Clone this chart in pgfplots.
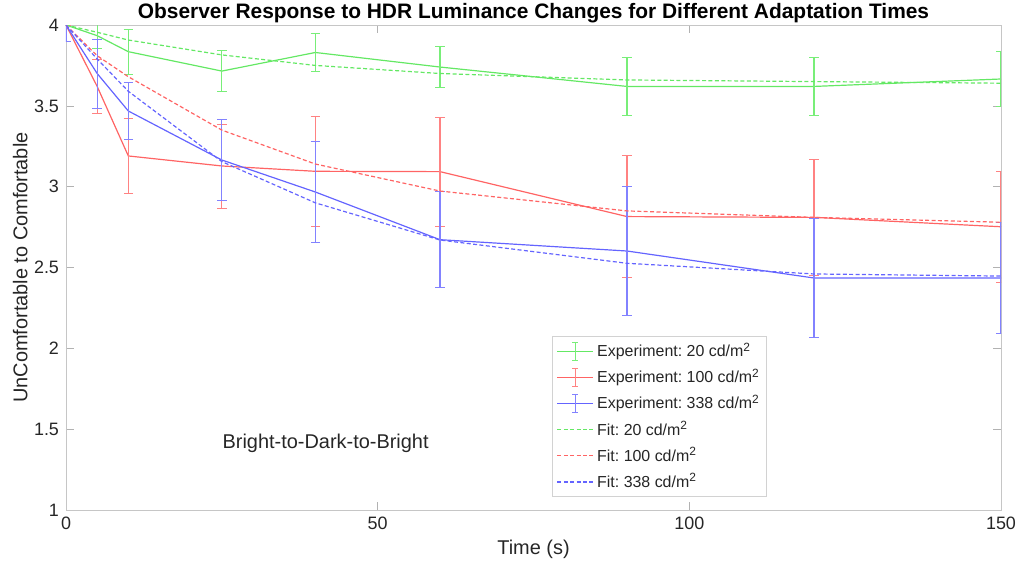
\documentclass[border=0pt]{standalone}
\usepackage{fontspec}
\setmainfont{Liberation Sans}
\usepackage{pgfplots}
\usepackage{pgfplotstable}
\pgfplotsset{compat=1.18}

\definecolor{gline}{RGB}{100,232,100}
\definecolor{rline}{RGB}{255,100,100}
\definecolor{bline}{RGB}{100,100,255}
\definecolor{gerr}{RGB}{120,238,120}
\definecolor{rerr}{RGB}{255,130,130}
\definecolor{berr}{RGB}{130,130,255}
\definecolor{txt}{RGB}{38,38,38}

% t, mean, half error
\pgfplotstableread{
t    g      ge     r      re     b      be
0    4.000  0.000  4.000  0.000  4.000  0.100
5    3.934  0.078  3.620  0.165  3.700  0.213
10   3.835  0.140  3.190  0.230  3.468  0.178
25   3.715  0.125  3.128  0.260  3.165  0.250
40   3.830  0.120  3.095  0.340  2.967  0.310
60   3.740  0.128  3.093  0.337  2.672  0.296
90   3.620  0.180  2.815  0.377  2.602  0.400
120  3.620  0.180  2.810  0.356  2.435  0.370
150  3.666  0.170  2.752  0.345  2.435  0.345
}\exper

\pgfplotstableread{
t    g      r      b
0    4.000  4.000  4.000
5    3.955  3.810  3.790
10   3.907  3.680  3.590
25   3.815  3.350  3.155
40   3.750  3.140  2.900
60   3.700  2.973  2.670
90   3.660  2.850  2.526
120  3.650  2.810  2.460
150  3.640  2.780  2.447
}\fit

\begin{document}
\frenchspacing
\begin{tikzpicture}
\begin{axis}[
    scale only axis,
    width=467.5bp, height=242.5bp,
    xmin=0, xmax=150, ymin=1, ymax=4,
    xtick={0,50,100,150},
    ytick={1,1.5,2,2.5,3,3.5,4},
    tick align=inside,
    major tick length=4bp,
    axis line style={gray!45},
    tick style={gray!60},
    every tick label/.append style={font=\fontsize{9}{11}\selectfont, text=txt},
    /pgf/number format/assume math mode=true,
    title={\bfseries Observer Response to HDR Luminance Changes for Different Adaptation Times},
    every axis title/.style={at={(0.5,1)}, anchor=base, inner sep=0pt,
        yshift=3.35bp, font=\fontsize{10.5}{12}\selectfont},
    xlabel={Time (s)},
    xlabel style={at={(axis description cs:0.5,-0.082)}, anchor=center,
        font=\fontsize{10}{12}\selectfont, text=txt},
    ylabel={UnComfortable to Comfortable},
    ylabel style={at={(axis description cs:-0.049,0.5)}, anchor=center,
        font=\fontsize{10}{12}\selectfont, text=txt},
    legend style={at={(axis description cs:0.52,0.359)}, anchor=north west,
        draw=gray!35, font=\fontsize{8}{10}\selectfont,
        inner xsep=2bp, inner ysep=1.2bp, row sep=0.6bp,
        nodes={inner xsep=1.5bp, text=txt}},
    legend cell align=left,
    errleg/.style 2 args={legend image code/.code={
        \draw[draw=#1, line width=0.6pt] (0bp,0bp) -- (18bp,0bp);
        \draw[draw=#2, line width=0.6pt] (9bp,-4.5bp) -- (9bp,4.5bp);
        \draw[draw=#2, line width=0.6pt] (7.5bp,-4.5bp) -- (10.5bp,-4.5bp);
        \draw[draw=#2, line width=0.6pt] (7.5bp,4.5bp) -- (10.5bp,4.5bp);}},
    fitleg/.style={legend image code/.code={
        \draw[draw=#1, line width=0.8pt, dash pattern=on 2bp off 1.2bp] (0bp,0bp) -- (18bp,0bp);}},
]
\addplot[gline, line width=0.6pt, mark=none, errleg={gline}{gerr},
    error bars/.cd, y dir=both, y explicit,
    error bar style={gerr, line width=0.6pt},
    error mark options={gerr, rotate=90, mark size=2.4bp}]
    table[x=t, y=g, y error=ge] {\exper};
\addlegendentry{Experiment: 20 cd/m\textsuperscript{2}}
\addplot[rline, line width=0.6pt, mark=none, errleg={rline}{rerr},
    error bars/.cd, y dir=both, y explicit,
    error bar style={rerr, line width=0.6pt},
    error mark options={rerr, rotate=90, mark size=2.4bp}]
    table[x=t, y=r, y error=re] {\exper};
\addlegendentry{Experiment: 100 cd/m\textsuperscript{2}}
\addplot[bline, line width=0.6pt, mark=none, errleg={bline}{berr},
    error bars/.cd, y dir=both, y explicit,
    error bar style={berr, line width=0.6pt},
    error mark options={berr, rotate=90, mark size=2.4bp}]
    table[x=t, y=b, y error=be] {\exper};
\addlegendentry{Experiment: 338 cd/m\textsuperscript{2}}

\addplot[gline, line width=0.6pt, dash pattern=on 2bp off 1.2bp, fitleg=gline]
    table[x=t, y=g] {\fit};
\addlegendentry{Fit: 20 cd/m\textsuperscript{2}}
\addplot[rline, line width=0.6pt, dash pattern=on 2bp off 1.2bp, fitleg=rline]
    table[x=t, y=r] {\fit};
\addlegendentry{Fit: 100 cd/m\textsuperscript{2}}
\addplot[bline, line width=0.6pt, dash pattern=on 2bp off 1.2bp, fitleg=bline]
    table[x=t, y=b] {\fit};
\addlegendentry{Fit: 338 cd/m\textsuperscript{2}}

\node[anchor=west, text=txt, font=\fontsize{10}{12}\selectfont]
    at (axis cs:24,1.414) {Bright-to-Dark-to-Bright};

\coordinate (sw) at (rel axis cs:0,0);
\coordinate (ne) at (rel axis cs:1,1);
\end{axis}
\pgfresetboundingbox
\path[use as bounding box] ([xshift=-33bp,yshift=-32bp]sw) rectangle ([xshift=9bp,yshift=12.5bp]ne);
\end{tikzpicture}
\end{document}
